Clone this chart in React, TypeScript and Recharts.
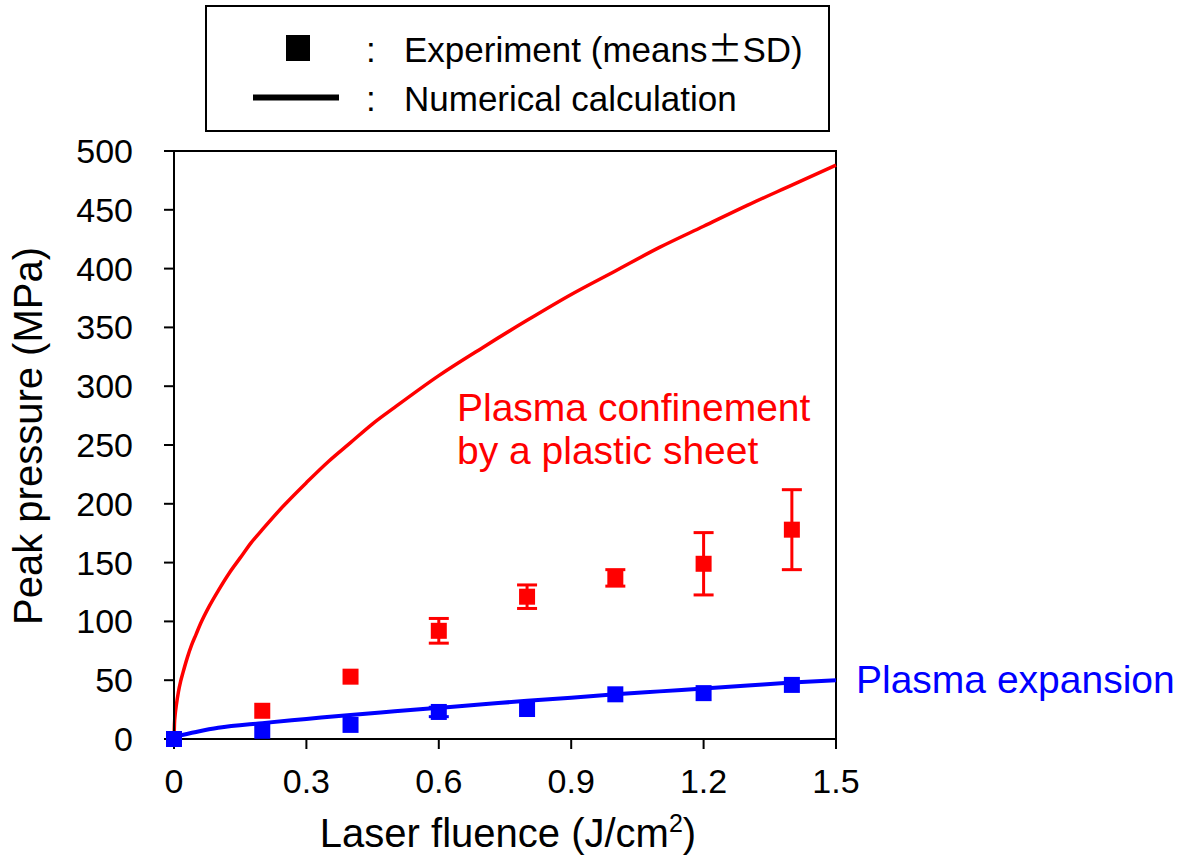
import {
  ComposedChart,
  Line,
  Scatter,
  ErrorBar,
  XAxis,
  YAxis,
  ReferenceArea,
  Customized,
} from 'recharts';

// numerical calculation curves
const confinedX = [0, 0.001, 0.003, 0.005, 0.01, 0.015, 0.02, 0.03, 0.04, 0.05, 0.06, 0.08, 0.1, 0.125, 0.15, 0.175, 0.2, 0.25, 0.3, 0.35, 0.4, 0.45, 0.5, 0.6, 0.7, 0.8, 0.9, 1.0, 1.1, 1.2, 1.3, 1.4, 1.5];
const confinedY = [0, 12.5, 22, 28, 40, 49, 56, 69, 80, 89, 98, 113, 126, 141, 154, 167, 178, 199, 218, 236, 252, 268, 282, 309, 333, 356, 378, 398, 418, 436, 454, 471, 488];
const expansionX = [0, 0.05, 0.1, 0.2, 0.3, 0.4, 0.5, 0.6, 0.7, 0.8, 0.9, 1.0, 1.1, 1.2, 1.3, 1.4, 1.5];
const expansionY = [2, 6, 9.5, 13.5, 17, 20.5, 23.5, 26.5, 29.5, 32.5, 35, 38, 40.5, 43, 45.5, 48, 50];

// experiments (means ± SD)
const fluence = [0, 0.2, 0.4, 0.6, 0.8, 1.0, 1.2, 1.4];
const confinedMean = [0, 24, 53, 92, 121, 137, 149, 178];
const confinedSd = [0, 0, 0, 10.5, 10, 7, 26.5, 34];
const expansionMean = [0, 7, 12, 23, 25.5, 38, 39, 46];
const expansionSd = [0, 0, 0, 4, 0, 0, 0, 0];

const xTicks = [0, 0.3, 0.6, 0.9, 1.2, 1.5];
const yTicks = [0, 50, 100, 150, 200, 250, 300, 350, 400, 450, 500];

const RED = '#ff0000';
const BLUE = '#0000ff';
const FONT = '"Liberation Sans", Arial, sans-serif';

const confinedLine = confinedX.map((x, i) => ({ x, y: confinedY[i] }));
const expansionLine = expansionX.map((x, i) => ({ x, y: expansionY[i] }));
const confinedPts = fluence.map((x, i) => ({ x, y: confinedMean[i], sd: confinedSd[i] }));
const expansionPts = fluence.map((x, i) => ({ x, y: expansionMean[i], sd: expansionSd[i] }));

const squareShape = (color: string) => (props: any) => (
  <rect x={props.cx - 8} y={props.cy - 8} width={16} height={16} fill={color} />
);

function Overlay() {
  return (
    <g fontFamily={FONT}>
      {/* legend box */}
      <rect x={206} y={6} width={623} height={125} fill="#fff" stroke="#000" strokeWidth={2} />
      <rect x={286} y={35} width={24} height={26} fill="#000" />
      <line x1={253} x2={339} y1={97.5} y2={97.5} stroke="#000" strokeWidth={6} />
      <text x={366} y={62} fontSize={35} fill="#000">:</text>
      <text x={366} y={111} fontSize={35} fill="#000">:</text>
      <text x={404} y={62} fontSize={35} fill="#000">
        Experiment (means<tspan fontFamily='"Noto Sans CJK JP"'>±</tspan>SD)
      </text>
      <text x={404} y={111} fontSize={35} fill="#000">Numerical calculation</text>

      {/* annotations */}
      <text x={457} y={421} fontSize={39} fill={RED}>Plasma confinement</text>
      <text x={457} y={464} fontSize={39} fill={RED}>by a plastic sheet</text>
      <text x={856} y={693} fontSize={39} fill={BLUE}>Plasma expansion</text>

      {/* axis titles */}
      <text x={508} y={847} fontSize={40} fill="#000" textAnchor="middle">
        Laser fluence (J/cm<tspan fontSize={25} dy={-15}>2</tspan><tspan dy={15}>)</tspan>
      </text>
      <text transform="translate(42,436) rotate(-90)" fontSize={40} fill="#000" textAnchor="middle">
        Peak pressure (MPa)
      </text>
    </g>
  );
}

export default function App() {
  return (
    <div style={{ position: 'absolute', left: 0, top: 0, background: '#fff' }}>
      <ComposedChart
        width={1186}
        height={856}
        margin={{ top: 151, right: 350, bottom: 57, left: 94 }}
      >
        <XAxis
          type="number"
          dataKey="x"
          domain={[0, 1.5]}
          ticks={xTicks}
          tickFormatter={(v: number) => String(v)}
          height={60}
          axisLine={{ stroke: '#000', strokeWidth: 2 }}
          tickLine={{ stroke: '#000', strokeWidth: 2 }}
          tickSize={10}
          tickMargin={20}
          tick={{ fill: '#000', fontSize: 34, fontFamily: FONT }}
        />
        <YAxis
          type="number"
          dataKey="y"
          domain={[0, 500]}
          ticks={yTicks}
          width={80}
          axisLine={{ stroke: '#000', strokeWidth: 2 }}
          tickLine={{ stroke: '#000', strokeWidth: 2 }}
          tickSize={10}
          tickMargin={31}
          tick={{ fill: '#000', fontSize: 34, fontFamily: FONT }}
        />
        <ReferenceArea x1={0} x2={1.5} y1={0} y2={500} fill="none" stroke="#000" strokeWidth={2} />
        <Line
          data={confinedLine}
          dataKey="y"
          type="monotone"
          stroke={RED}
          strokeWidth={3.5}
          dot={false}
          isAnimationActive={false}
        />
        <Line
          data={expansionLine}
          dataKey="y"
          type="monotone"
          stroke={BLUE}
          strokeWidth={4}
          dot={false}
          isAnimationActive={false}
        />
        <Scatter data={confinedPts} dataKey="y" shape={squareShape(RED)} isAnimationActive={false}>
          <ErrorBar dataKey="sd" direction="y" width={10} stroke={RED} strokeWidth={3} isAnimationActive={false} />
        </Scatter>
        <Scatter data={expansionPts} dataKey="y" shape={squareShape(BLUE)} isAnimationActive={false}>
          <ErrorBar dataKey="sd" direction="y" width={10} stroke={BLUE} strokeWidth={3} isAnimationActive={false} />
        </Scatter>
        <Customized component={<Overlay />} />
      </ComposedChart>
    </div>
  );
}
